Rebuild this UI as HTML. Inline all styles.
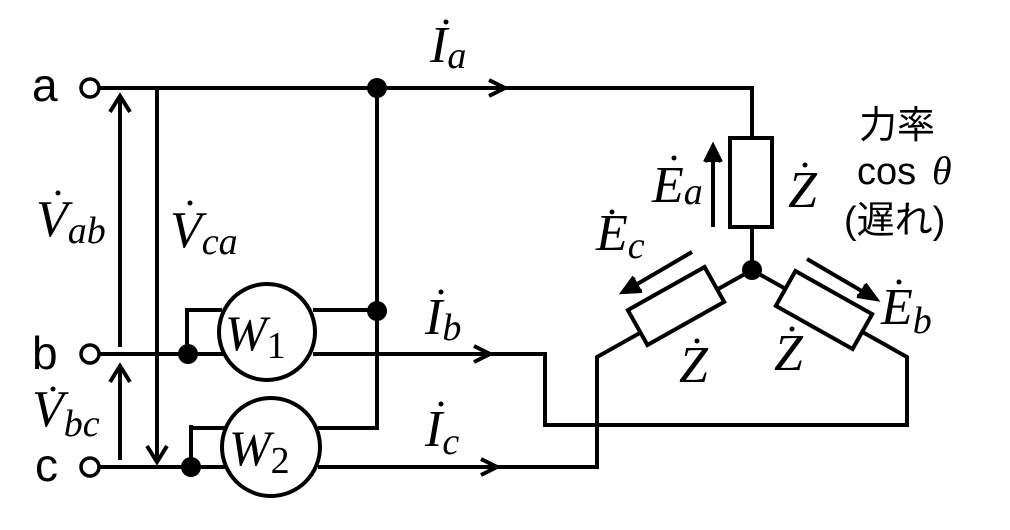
<!DOCTYPE html>
<html><head><meta charset="utf-8"><style>
html,body{margin:0;padding:0;background:#fff;}
svg{display:block;}
.m{font-family:"Liberation Serif",serif;font-style:italic;}
.s{font-family:"Liberation Sans","Noto Sans CJK JP",sans-serif;}
</style></head><body>
<svg width="1010" height="530" viewBox="0 0 1010 530" xmlns="http://www.w3.org/2000/svg">
<g stroke="#000" stroke-width="4" fill="none">
<line x1="99" y1="88" x2="754" y2="88"/>
<line x1="752" y1="88" x2="752" y2="138"/>
<rect x="730" y="138" width="42" height="89"/>
<line x1="752" y1="227" x2="752" y2="270"/>
<line x1="99" y1="354" x2="224" y2="354"/>
<line x1="313" y1="354" x2="547" y2="354"/>
<polyline points="545,354 545,425 907,425 907,357 752,270"/>
<line x1="99" y1="467" x2="226" y2="467"/>
<polyline points="318,467 597,467 597,357 752,270"/>
<line x1="377" y1="88" x2="377" y2="428"/>
<line x1="313" y1="310" x2="377" y2="310"/>
<polyline points="222,310 187,310 187,354"/>
<line x1="318" y1="428" x2="379" y2="428"/>
<polyline points="226,428 193,428"/>
<line x1="191" y1="425" x2="191" y2="467"/>
<circle cx="267" cy="332" r="48" fill="#fff"/>
<circle cx="271" cy="447" r="49" fill="#fff"/>
<circle cx="90" cy="88" r="9" fill="#fff" stroke-width="3.5"/>
<circle cx="90" cy="354" r="9" fill="#fff" stroke-width="3.5"/>
<circle cx="90" cy="467" r="9" fill="#fff" stroke-width="3.5"/>
<line x1="120" y1="347" x2="120" y2="98"/>
<polyline points="110,112 120,96 130,112"/>
<line x1="120" y1="460" x2="120" y2="368"/>
<polyline points="110,382 120,366 130,382"/>
<line x1="157" y1="90" x2="157" y2="460"/>
<polyline points="147,446 157,462 167,446"/>
<polyline points="489,80 505,88 489,96"/>
<polyline points="474,346 490,354 474,362"/>
<polyline points="481,459 497,467 481,475"/>
<rect x="-44" y="-20" width="88" height="40" fill="#fff" transform="translate(676,306) rotate(-29.3)"/>
<rect x="-44" y="-20" width="88" height="40" fill="#fff" transform="translate(824,310) rotate(29.3)"/>
<line x1="713" y1="227" x2="713" y2="148"/>
<polyline points="705,162 713,146 721,162" fill="#000"/>
<line x1="692" y1="252" x2="627" y2="290"/>
<polyline points="634,277 623,292 642,291" fill="#000"/>
<line x1="807" y1="259" x2="872" y2="297"/>
<polyline points="857,296 876,299 865,284" fill="#000"/>
</g>
<g fill="#000">
<circle cx="377" cy="88" r="10"/>
<circle cx="377" cy="311" r="10"/>
<circle cx="188" cy="354" r="10"/>
<circle cx="191" cy="467" r="10"/>
<circle cx="752" cy="270" r="10"/>
<circle cx="446" cy="22" r="2.5"/>
<circle cx="441" cy="292" r="2.5"/>
<circle cx="441" cy="404" r="2.5"/>
<circle cx="58" cy="193" r="2.5"/>
<circle cx="190" cy="203" r="2.5"/>
<circle cx="53" cy="389" r="2.5"/>
<circle cx="674" cy="158" r="2.5"/>
<circle cx="612" cy="212" r="2.5"/>
<circle cx="899" cy="282" r="2.5"/>
<circle cx="805" cy="165" r="2.5"/>
<circle cx="697" cy="341" r="2.5"/>
<circle cx="792" cy="329" r="2.5"/>
</g>
<g class="m" fill="#000">
<text x="430" y="62" font-size="52">I<tspan font-size="38" dy="6">a</tspan></text>
<text x="425" y="334" font-size="52">I<tspan font-size="38" dy="6">b</tspan></text>
<text x="425" y="446" font-size="52">I<tspan font-size="38" dy="8">c</tspan></text>
<text x="36" y="236" font-size="52">V<tspan font-size="38" dy="7">ab</tspan></text>
<text x="170" y="247" font-size="52">V<tspan font-size="38" dy="7">ca</tspan></text>
<text x="32" y="426" font-size="52">V<tspan font-size="38" dy="10">bc</tspan></text>
<text x="652" y="202" font-size="52">E<tspan font-size="38" dy="2">a</tspan></text>
<text x="596" y="250" font-size="52">E<tspan font-size="38" dy="8">c</tspan></text>
<text x="881" y="324" font-size="52">E<tspan font-size="38" dy="9">b</tspan></text>
<text x="788" y="207" font-size="52">Z</text>
<text x="679" y="382" font-size="52">Z</text>
<text x="774" y="370" font-size="52">Z</text>
<text x="225" y="350" font-size="50">W<tspan font-size="38" dy="8" font-style="normal">1</tspan></text>
<text x="229" y="465" font-size="50">W<tspan font-size="38" dy="8" font-style="normal">2</tspan></text>
</g>
<g class="s" fill="#000">
<text x="32" y="101" font-size="46">a</text>
<text x="32" y="369" font-size="46">b</text>
<text x="35" y="481" font-size="46">c</text>
<text x="859" y="138" font-size="38">力率</text>
<text x="857" y="184" font-size="38">cos</text>
<text x="932" y="184" font-size="40" class="m" font-family="Liberation Serif">θ</text>
<text x="844" y="233" font-size="38">(遅れ)</text>
</g>
</svg>
</body></html>
